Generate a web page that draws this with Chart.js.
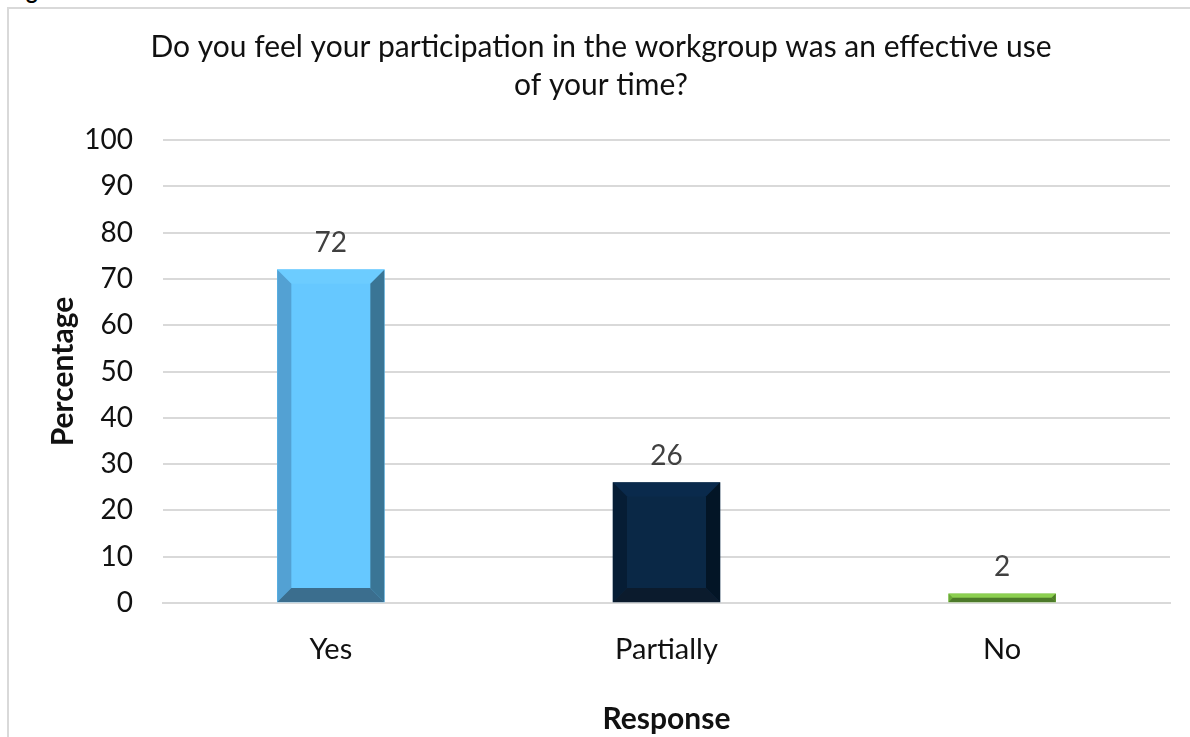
<!DOCTYPE html>
<html lang="en">
<head>
<meta charset="UTF-8">
<title>Effective use of time</title>
<script src="https://cdn.jsdelivr.net/npm/chart.js"></script>
<style>
  html, body { margin: 0; padding: 0; width: 1190px; height: 737px; overflow: hidden; background: #fff; }
  #frame { position: absolute; left: 7px; top: 7px; width: 1200px; height: 800px; border: 2px solid #d9d9d9; box-sizing: border-box; }
  #caption { position: absolute; left: 8px; top: -23px; font: bold 22px Lato, sans-serif; color: #000; }
  #chart { position: absolute; left: 0; top: 0; }
</style>
</head>
<body>
<div id="caption">Figure</div>
<div id="frame"></div>
<canvas id="chart" width="1190" height="737"></canvas>
<script>
// chart values
const categories = ['Yes', 'Partially', 'No'];
const percentages = [72, 26, 2];
const yTicks = [0, 10, 20, 30, 40, 50, 60, 70, 80, 90, 100];
const titleLines = ['Do you feel your participation in the workgroup was an effective use', 'of your time?'];

// bevel colours per bar: face, top, left, right, bottom
const bevels = [
    { face: '#66c8ff', top: '#6cccff', left: '#53a1d3', right: '#3a7595', bottom: '#3b6e8e' },
    { face: '#0a2846', top: '#0a2a4c', left: '#061d35', right: '#031526', bottom: '#0b1b2d' },
    { face: '#7cc242', top: '#8ccf50', left: '#6aa838', right: '#4f7d2a', bottom: '#4d7a2a' }
];

const FONT = 'Lato, "Open Sans", sans-serif';

// draws the bevelled edges on top of each plain bar
const bevelPlugin = {
    id: 'bevel',
    afterDatasetsDraw(chart) {
        const ctx = chart.ctx;
        chart.getDatasetMeta(0).data.forEach((bar, i) => {
            const c = bevels[i];
            const l = bar.x - bar.width / 2, r = bar.x + bar.width / 2;
            const t = Math.min(bar.y, bar.base), b = Math.max(bar.y, bar.base);
            const h = b - t;
            const s = Math.min(14, h / 2);
            const poly = (pts, col) => {
                ctx.beginPath();
                ctx.moveTo(pts[0][0], pts[0][1]);
                for (let k = 1; k < pts.length; k++) ctx.lineTo(pts[k][0], pts[k][1]);
                ctx.closePath();
                ctx.fillStyle = col;
                ctx.fill();
            };
            ctx.save();
            poly([[l, t], [r, t], [r - s, t + s], [l + s, t + s]], c.top);
            poly([[l, t], [l + s, t + s], [l + s, b - s], [l, b]], c.left);
            poly([[r, t], [r, b], [r - s, b - s], [r - s, t + s]], c.right);
            poly([[l, b], [l + s, b - s], [r - s, b - s], [r, b]], c.bottom);
            ctx.restore();
        });
    }
};

// value labels above the bars and the two-line title
const labelPlugin = {
    id: 'labels',
    afterDraw(chart) {
        const ctx = chart.ctx;
        ctx.save();
        ctx.textAlign = 'center';
        ctx.textBaseline = 'middle';
        ctx.font = '28px ' + FONT;
        ctx.fillStyle = '#404040';
        chart.getDatasetMeta(0).data.forEach((bar, i) => {
            ctx.fillText(String(percentages[i]), bar.x, bar.y - 27);
        });
        ctx.fillStyle = '#111';
        ctx.font = '30px ' + FONT;
        titleLines.forEach((line, i) => ctx.fillText(line, 601, 47 + i * 38));
        ctx.restore();
    }
};

new Chart(document.getElementById('chart'), {
    type: 'bar',
    data: {
        labels: categories,
        datasets: [{
            data: percentages,
            backgroundColor: bevels.map(b => b.face),
            borderWidth: 0,
            barThickness: 107
        }]
    },
    options: {
        responsive: false,
        animation: false,
        devicePixelRatio: 1,
        layout: { padding: { top: 140, right: 20, bottom: 0, left: 0 } },
        plugins: { legend: { display: false }, tooltip: { enabled: false }, title: { display: false } },
        scales: {
            x: {
                grid: { display: false, drawTicks: false },
                border: { color: '#d9d9d9', width: 2 },
                ticks: { color: '#111', font: { family: FONT, size: 29 }, padding: 29 },
                title: { display: true, text: 'Response', color: '#111', font: { family: FONT, size: 30, weight: 'bold' }, padding: { top: 0, bottom: 0 } },
                afterFit(scale) { scale.height = 134; }
            },
            y: {
                min: 0, max: 100,
                afterBuildTicks(scale) { scale.ticks = yTicks.map(v => ({ value: v })); },
                grid: { color: '#d9d9d9', lineWidth: 2, drawTicks: false },
                border: { display: false },
                ticks: { color: '#111', font: { family: FONT, size: 28 }, padding: 30 },
                title: { display: true, text: 'Percentage', color: '#111', font: { family: FONT, size: 30, weight: 'bold' }, padding: { top: 45, bottom: 0 } },
                afterFit(scale) { scale.width = 163; }
            }
        }
    },
    plugins: [bevelPlugin, labelPlugin]
});
</script>
</body>
</html>
